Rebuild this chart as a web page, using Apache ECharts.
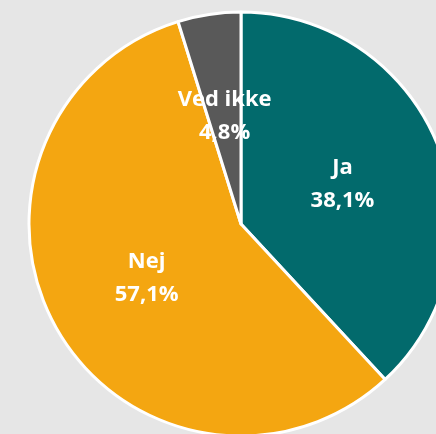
<!DOCTYPE html>
<html>
<head>
<meta charset="utf-8">
<script src="https://cdn.jsdelivr.net/npm/echarts@6/dist/echarts.min.js"></script>
<style>
  html, body { margin: 0; padding: 0; background: #e6e6e6; }
  #chart { width: 436px; height: 434px; }
</style>
</head>
<body>
<div id="chart"></div>
<script>
// svar fordeling
var categories = ["Ja", "Nej", "Ved ikke"];
var values = [38.1, 57.1, 4.8];
var colors = ["#026a6c", "#f4a611", "#595959"];

var chart = echarts.init(document.getElementById("chart"));
chart.setOption({
  backgroundColor: "#e6e6e6",
  animation: false,
  series: [
    {
      type: "pie",
      center: [241, 224],
      radius: 212,
      startAngle: 90,
      clockwise: true,
      data: categories.map(function (c, i) {
        return { name: c, value: values[i], itemStyle: { color: colors[i] } };
      }),
      itemStyle: { borderColor: "#fff", borderWidth: 3 },
      label: {
        position: "inside",
        color: "#fff",
        fontFamily: "Open Sans",
        fontWeight: "bold",
        fontSize: 22,
        lineHeight: 33,
        padding: [12, 0, 0, 0],
        formatter: function (p) {
          return p.name + "\n" + p.value.toFixed(1).replace(".", ",") + "%";
        }
      },
      labelLine: { show: false },
      emphasis: { disabled: true }
    }
  ]
});
</script>
</body>
</html>
